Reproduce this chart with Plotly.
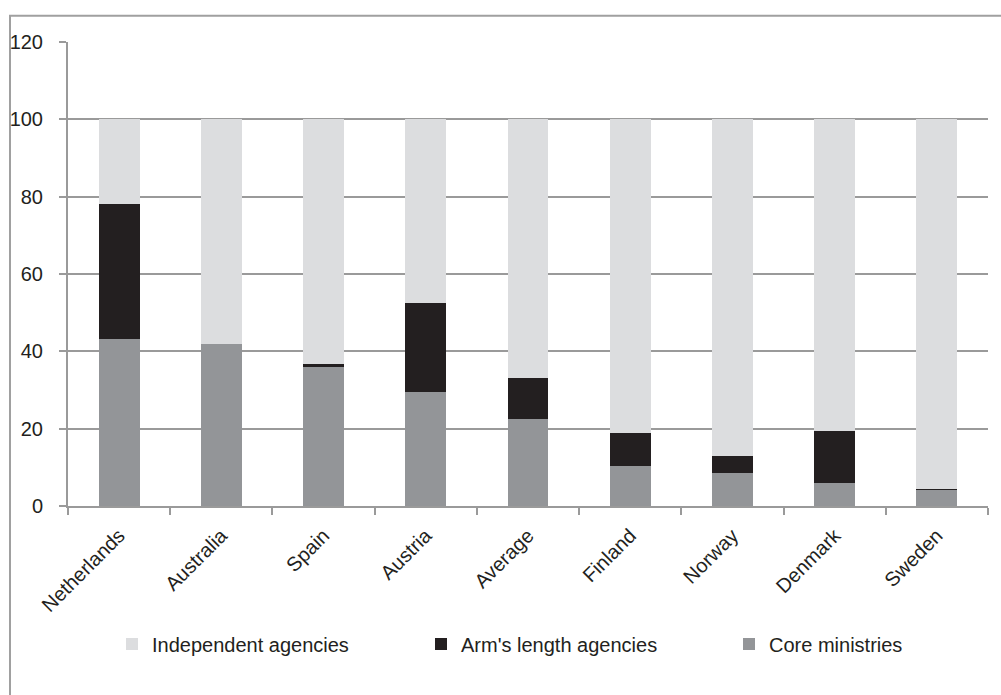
import plotly.graph_objects as go

categories = ["Netherlands", "Australia", "Spain", "Austria", "Average",
              "Finland", "Norway", "Denmark", "Sweden"]
core_ministries = [43.2, 42.0, 36.1, 29.5, 22.4, 10.3, 8.6, 6.0, 4.2]
arms_length = [34.8, 0.0, 0.5, 23.0, 10.8, 8.7, 4.4, 13.4, 0.3]
independent = [round(100 - c - a, 1) for c, a in zip(core_ministries, arms_length)]
y_ticks = [0, 20, 40, 60, 80, 100, 120]

FONT = "Liberation Sans, Arial, Helvetica, sans-serif"
FS = 20
TXT = "#231f20"
GRID = "#9a9a9a"

W, H = 1001, 695
L, R, T, B = 68, 13, 42, 189
pw, ph = W - L - R, H - T - B

def px_x(p):
    return (p - L) / pw

def px_y(p):
    return (H - B - p) / ph

fig = go.Figure()
fig.add_trace(go.Bar(x=categories, y=core_ministries, name="Core ministries",
                     marker=dict(color="#939598", line=dict(width=0)),
                     legend="legend3"))
fig.add_trace(go.Bar(x=categories, y=arms_length, name="Arm's length agencies",
                     marker=dict(color="#231f20", line=dict(width=0)),
                     legend="legend2"))
fig.add_trace(go.Bar(x=categories, y=independent, name="Independent agencies",
                     marker=dict(color="#dcdddf", line=dict(width=0)),
                     legend="legend"))

def leg(xpx):
    return dict(orientation="h", x=px_x(xpx), xref="paper", xanchor="left",
                y=px_y(644), yref="paper", yanchor="middle",
                font=dict(family=FONT, size=FS, color=TXT),
                bgcolor="rgba(0,0,0,0)", itemclick=False, itemdoubleclick=False)

fig.update_layout(
    width=W, height=H,
    margin=dict(l=L, r=R, t=T, b=B, autoexpand=False),
    paper_bgcolor="white", plot_bgcolor="white",
    barmode="stack", bargap=0.6,
    font=dict(family=FONT, size=FS, color=TXT),
    showlegend=True,
    legend=leg(112),
    legend2=leg(421),
    legend3=leg(729),
    xaxis=dict(showgrid=False, showline=True, linecolor=GRID, linewidth=2,
               ticks="outside", tickson="boundaries", ticklen=7, tickwidth=2,
               tickcolor=GRID, tickangle=-45, ticklabelstandoff=8,
               tickfont=dict(family=FONT, size=FS, color=TXT)),
    yaxis=dict(range=[0, 120], tickvals=y_ticks, showgrid=True, gridcolor=GRID,
               gridwidth=2, showline=True, linecolor=GRID, linewidth=2,
               ticks="outside", ticklen=7, tickwidth=2, tickcolor=GRID,
               ticklabelstandoff=12, zeroline=False,
               tickfont=dict(family=FONT, size=FS, color=TXT)),
    shapes=[dict(type="rect", xref="paper", yref="paper",
                 x0=px_x(10), x1=px_x(1010), y0=px_y(710), y1=px_y(15.7),
                 line=dict(color="#a0a0a0", width=2), layer="below")],
)

fig.write_html("out.html")
